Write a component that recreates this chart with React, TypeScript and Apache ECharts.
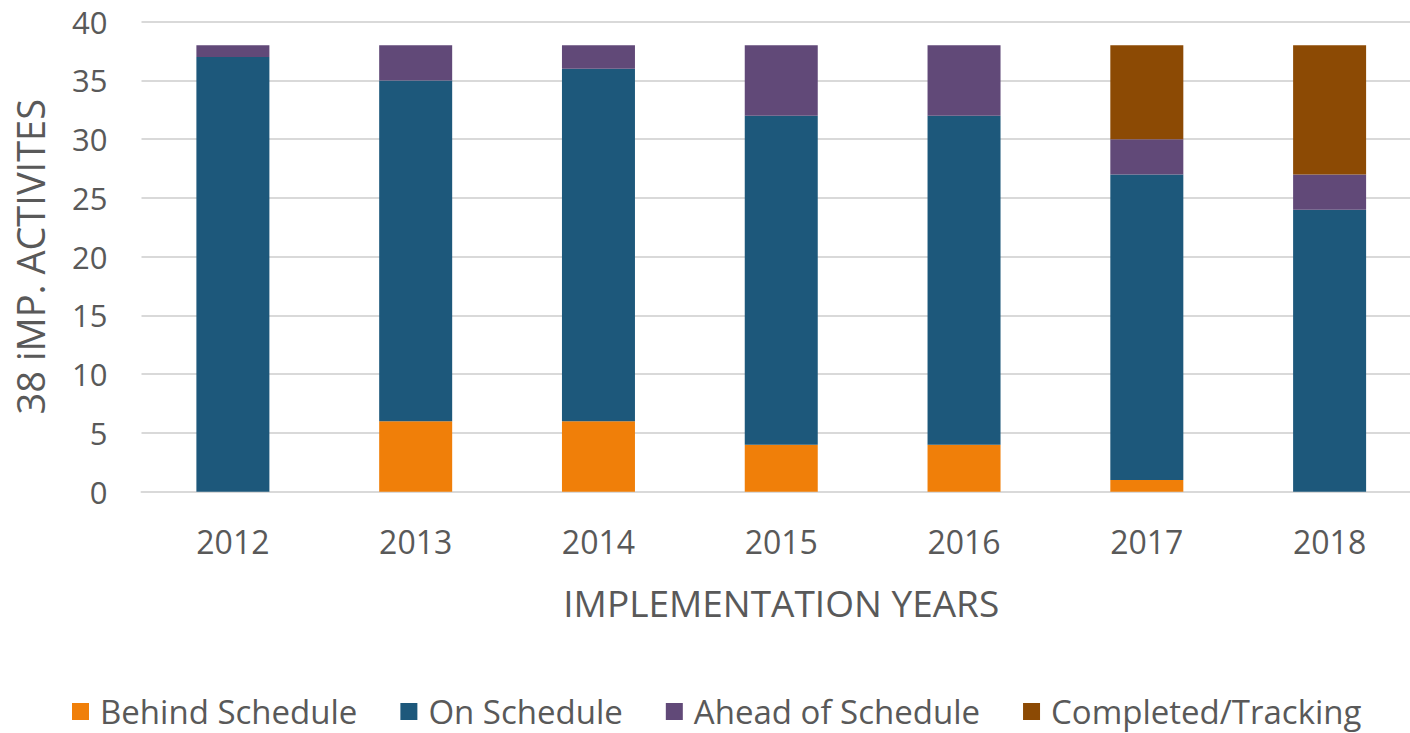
import React, { useEffect, useRef } from "react";
import * as echarts from "echarts";

const years = ["2012", "2013", "2014", "2015", "2016", "2017", "2018"];
const behindSchedule = [0, 6, 6, 4, 4, 1, 0];
const onSchedule = [37, 29, 30, 28, 28, 26, 24];
const aheadOfSchedule = [1, 3, 2, 6, 6, 3, 3];
const completedTracking = [0, 0, 0, 0, 0, 8, 11];

const seriesNames = ["Behind Schedule", "On Schedule", "Ahead of Schedule", "Completed/Tracking"];
const seriesColors = ["#F07F09", "#1D587B", "#614978", "#8C4A04"];
const seriesData = [behindSchedule, onSchedule, aheadOfSchedule, completedTracking];

const FONT = "'Open Sans', sans-serif";
const TEXT = "#595959";

export default function App() {
  const ref = useRef<HTMLDivElement>(null);
  useEffect(() => {
    if (!ref.current) return;
    const chart = echarts.init(ref.current, null, { renderer: "svg" });
    chart.setOption({
      animation: false,
      backgroundColor: "#ffffff",
      textStyle: { fontFamily: FONT },
      grid: { left: 141.5, right: 2, top: 21.7, bottom: 241.3, containLabel: false },
      legend: {
        bottom: 0,
        left: 72 - 5,
        itemWidth: 17,
        itemHeight: 17,
        itemGap: 43,
        icon: "rect",
        textStyle: { color: TEXT, fontSize: 33, fontFamily: FONT, padding: [0, 0, 0, 6] },
        data: seriesNames,
      },
      xAxis: {
        type: "category",
        data: years,
        name: "IMPLEMENTATION YEARS",
        nameLocation: "middle",
        nameGap: 92,
        nameTextStyle: { color: TEXT, fontSize: 37, fontFamily: FONT },
        axisLine: { show: true, lineStyle: { color: "#d9d9d9", width: 2 } },
        axisTick: { show: false },
        axisLabel: { color: TEXT, fontSize: 32, fontFamily: FONT, margin: 34 },
      },
      yAxis: {
        type: "value",
        min: 0,
        max: 40,
        interval: 5,
        name: "38 iMP. ACTIVITES",
        nameLocation: "middle",
        nameGap: 93,
        nameTextStyle: { color: TEXT, fontSize: 38, fontFamily: FONT },
        axisLine: { show: false },
        axisTick: { show: false },
        axisLabel: { color: TEXT, fontSize: 31, fontFamily: FONT, margin: 34 },
        splitLine: { lineStyle: { color: "#d9d9d9", width: 2 } },
      },
      series: seriesNames.map((name, i) => ({
        name,
        type: "bar",
        stack: "total",
        barWidth: 73,
        data: seriesData[i],
        itemStyle: { color: seriesColors[i] },
      })),
    });
    return () => chart.dispose();
  }, []);
  return (
    <div style={{ position: "fixed", left: 0, top: 0, width: 1410, height: 733, overflow: "hidden" }}>
      <div ref={ref} style={{ width: 1423, height: 733 }} />
    </div>
  );
}
